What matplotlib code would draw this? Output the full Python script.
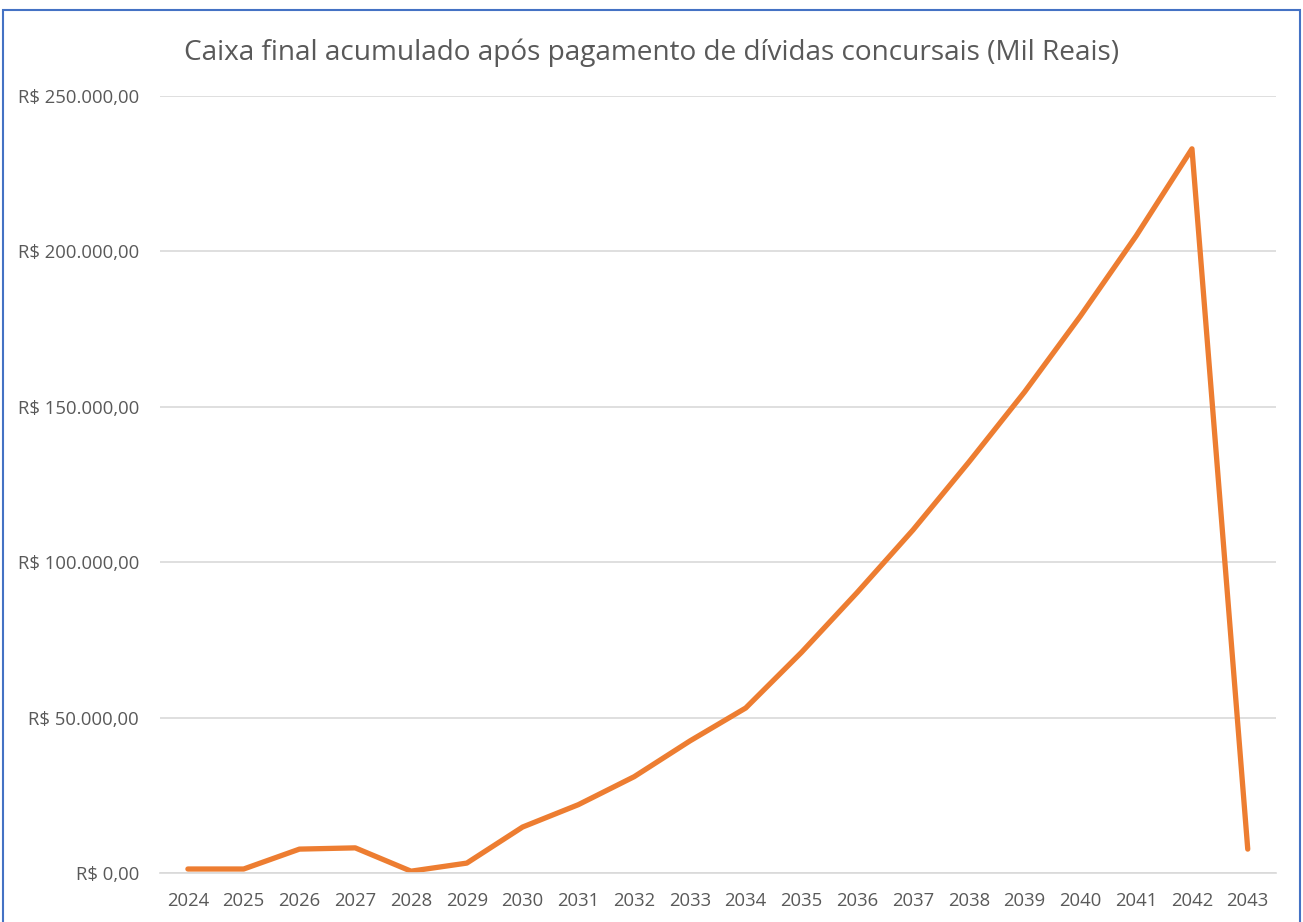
import matplotlib.pyplot as plt
from matplotlib.patches import Rectangle
from matplotlib.ticker import FuncFormatter

anos = [str(a) for a in range(2024, 2044)]
caixa = [1300, 1300, 7700, 8100, 600, 3200, 14800, 22000, 31000, 42500, 53100,
         71000, 90300, 110400, 132200, 154800, 179200, 205000, 233000, 7700]
yticks = [0, 50000, 100000, 150000, 200000, 250000]

plt.rcParams['font.family'] = ['Open Sans', 'DejaVu Sans']

def reais(v, pos):
    s = f"{v:,.2f}".replace(",", "X").replace(".", ",").replace("X", ".")
    return "R$ " + s

fig = plt.figure(figsize=(13.03, 9.22), dpi=100)
ax = fig.add_axes([0.1228, 0.0531, 0.979 - 0.1228, 0.8959 - 0.0531])

x = list(range(len(anos)))
ax.plot(x, caixa, color="#ED7D31", linewidth=3.8, solid_capstyle="round", solid_joinstyle="round")

ax.set_xlim(-0.5, len(anos) - 0.5)
ax.set_ylim(0, 250000)
ax.set_yticks(yticks)
ax.yaxis.set_major_formatter(FuncFormatter(reais))
ax.set_xticks(x)
ax.set_xticklabels(anos)
ax.grid(axis="y", color="#D9D9D9", linewidth=1.2)
ax.set_axisbelow(True)
for s in ["top", "right", "left"]:
    ax.spines[s].set_visible(False)
ax.spines["bottom"].set_color("#D9D9D9")
ax.spines["bottom"].set_linewidth(1.2)
ax.tick_params(length=0, labelcolor="#595959", labelsize=13.3)
ax.tick_params(axis="y", pad=15)
ax.tick_params(axis="x", pad=14)

fig.text(0.5, 0.943, "Caixa final acumulado após pagamento de dívidas concursais (Mil Reais)",
         ha="center", va="center", fontsize=20.2, color="#595959")

fig.patches.append(Rectangle((3 / 1303, -0.01), 1297 / 1303, 1 - 10 / 922 + 0.01,
                             transform=fig.transFigure, fill=False,
                             edgecolor="#4472C4", linewidth=1.5))

fig.savefig("out.png", dpi=100)
